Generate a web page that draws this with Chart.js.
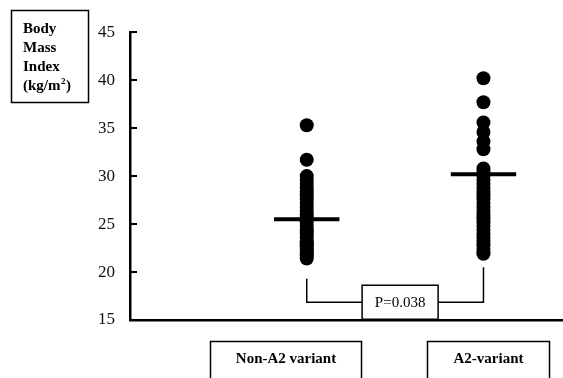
<!DOCTYPE html>
<html>
<head>
<meta charset="utf-8">
<script src="https://cdn.jsdelivr.net/npm/chart.js@4"></script>
<style>
  html, body { margin: 0; padding: 0; background: #fff; overflow: hidden; }
  #wrap { width: 563px; height: 378px; position: relative; }
  canvas { display: block; }
</style>
</head>
<body>
<div id="wrap"><canvas id="c"></canvas></div>
<script>
// Body mass index of each subject, by variant group
const groups = ['Non-A2 variant', 'A2-variant'];
const nonA2BMI = [35.3, 31.7, 30.0, 29.6, 29.2, 28.8, 28.4, 28.0, 27.6, 27.2, 26.8, 26.4, 26.0,
  25.6, 25.2, 24.8, 24.4, 24.0, 23.6, 23.2, 22.8, 22.4, 22.0, 21.7, 21.4, 23.0, 22.2, 21.8, 24.2, 22.6];
const a2BMI = [40.2, 37.7, 35.6, 34.6, 33.6, 32.8, 30.8, 30.4, 30.0, 29.6, 29.2, 28.8, 28.4, 28.0,
  27.6, 27.2, 26.8, 26.4, 26.0, 25.6, 25.2, 24.8, 24.4, 24.0, 23.6, 23.2, 22.8, 22.4, 22.1, 21.9];
const groupMeans = [25.5, 30.2];
const pValueLabel = 'P=0.038';
const yTicks = [15, 20, 25, 30, 35, 40, 45];

const SERIF = '"Liberation Serif", "Times New Roman", serif';
const groupX = [1, 2];
const meanHalfWidth = 0.185;

const dotSet = (vals, gx) => ({
  type: 'scatter',
  data: vals.map(v => ({ x: gx, y: v })),
  pointRadius: 7,
  pointHoverRadius: 7,
  backgroundColor: '#000',
  borderWidth: 0
});

const meanSet = (m, gx) => ({
  type: 'line',
  data: [{ x: gx - meanHalfWidth, y: m }, { x: gx + meanHalfWidth, y: m }],
  borderColor: '#000',
  borderWidth: 4,
  pointRadius: 0,
  borderCapStyle: 'butt'
});

// comparison bracket joining the two groups
const bracketSet = {
  type: 'line',
  data: [
    { x: groupX[0], y: 19.3 }, { x: groupX[0], y: 16.85 },
    { x: groupX[1], y: 16.85 }, { x: groupX[1], y: 20.5 }
  ],
  borderColor: '#000',
  borderWidth: 1.5,
  pointRadius: 0,
  tension: 0
};

const annotations = {
  id: 'annotations',
  afterDatasetsDraw(chart) {
    const ctx = chart.ctx;
    const xs = chart.scales.x, ys = chart.scales.y;
    ctx.save();
    ctx.strokeStyle = '#000';
    ctx.fillStyle = '#000';
    ctx.lineWidth = 1.5;

    // axis title box
    ctx.strokeRect(11.5, 10.5, 77, 92);
    ctx.font = 'bold 15px ' + SERIF;
    ctx.textAlign = 'left';
    ctx.textBaseline = 'alphabetic';
    ctx.fillText('Body', 23, 33);
    ctx.fillText('Mass', 23, 52);
    ctx.fillText('Index', 23, 71);
    const pre = '(kg/m';
    ctx.fillText(pre, 23, 90);
    const w = ctx.measureText(pre).width;
    ctx.font = 'bold 9px ' + SERIF;
    ctx.fillText('2', 23 + w + 0.5, 84);
    const w2 = ctx.measureText('2').width;
    ctx.font = 'bold 15px ' + SERIF;
    ctx.fillText(')', 23 + w + w2 + 1, 90);

    // p-value box over the bracket
    const pyc = ys.getPixelForValue(16.85);
    const pxc = (xs.getPixelForValue(groupX[0]) + xs.getPixelForValue(groupX[1])) / 2 + 5;
    ctx.fillStyle = '#fff';
    ctx.fillRect(pxc - 38, pyc - 17, 76, 34);
    ctx.strokeRect(pxc - 38, pyc - 17, 76, 34);
    ctx.fillStyle = '#000';
    ctx.font = '15px ' + SERIF;
    ctx.textAlign = 'center';
    ctx.textBaseline = 'middle';
    ctx.fillText(pValueLabel, pxc, pyc + 1);

    // group label boxes
    const boxes = [[210.5, 151], [427.5, 122]];
    ctx.font = 'bold 15px ' + SERIF;
    groups.forEach((g, i) => {
      const [bx, bw] = boxes[i];
      ctx.strokeRect(bx, 341.5, bw, 60);
      ctx.fillText(g, bx + bw / 2, 359);
    });
    ctx.restore();
  }
};

new Chart(document.getElementById('c'), {
  data: {
    datasets: [
      dotSet(nonA2BMI, groupX[0]),
      dotSet(a2BMI, groupX[1]),
      meanSet(groupMeans[0], groupX[0]),
      meanSet(groupMeans[1], groupX[1]),
      bracketSet
    ]
  },
  options: {
    responsive: true,
    maintainAspectRatio: false,
    animation: false,
    devicePixelRatio: 1,
    layout: { autoPadding: false, padding: { top: 29, bottom: 58, left: 0, right: 0 } },
    plugins: { legend: { display: false }, tooltip: { enabled: false } },
    scales: {
      x: {
        type: 'linear',
        min: 0,
        max: 2.45,
        ticks: { display: false },
        grid: { display: false },
        border: { display: true, color: '#000', width: 2.5 },
        afterFit: s => { s.height = 0; }
      },
      y: {
        type: 'linear',
        min: 15,
        max: 45,
        afterBuildTicks: s => { s.ticks = yTicks.map(v => ({ value: v })); },
        ticks: {
          color: '#111',
          font: { family: SERIF, size: 17 },
          padding: 22
        },
        grid: { drawOnChartArea: false, tickLength: -7, color: '#000', lineWidth: 2 },
        border: { display: true, color: '#000', width: 2.5 },
        afterFit: s => { s.width = 130; }
      }
    }
  },
  plugins: [annotations]
});
</script>
</body>
</html>
